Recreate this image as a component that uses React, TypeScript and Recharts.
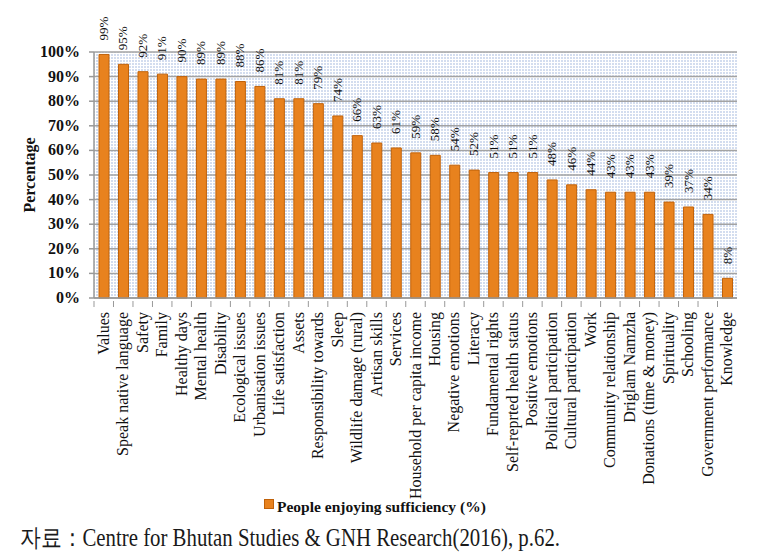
import React from 'react';
import { BarChart, Bar, XAxis, YAxis, CartesianGrid, Legend, LabelList } from 'recharts';

const categories = [
  'Values', 'Speak native language', 'Safety', 'Family', 'Healthy days', 'Mental health',
  'Disability', 'Ecological issues', 'Urbanisation issues', 'Life satisfaction', 'Assets',
  'Responsibility towards', 'Sleep', 'Wildlife damage (rural)', 'Artisan skills', 'Services',
  'Household per capita income', 'Housing', 'Negative emotions', 'Literacy', 'Fundamental rights',
  'Self-reprted health status', 'Positive emotions', 'Political participation', 'Cultural participation',
  'Work', 'Community relationship', 'Driglam Namzha', 'Donations (time & money)', 'Spirituality',
  'Schooling', 'Government performance', 'Knowledge',
];

const values = [
  99, 95, 92, 91, 90, 89, 89, 88, 86, 81, 81, 79, 74, 66, 63, 61, 59, 58, 54, 52, 51, 51, 51,
  48, 46, 44, 43, 43, 43, 39, 37, 34, 8,
];

const yTicks = [0, 10, 20, 30, 40, 50, 60, 70, 80, 90, 100];

const seriesName = 'People enjoying sufficiency (%)';
const sourceText = '자료：Centre for Bhutan Studies & GNH Research(2016), p.62.';

const data = categories.map((c, i) => ({ name: c, value: values[i] }));

const SERIF = '"Liberation Serif", "Times New Roman", serif';

const XTick = (props: any) => {
  const { x, y, payload } = props;
  const half = payload && payload.offset ? payload.offset : 9.75;
  return (
    <g>
      <line x1={x - half} x2={x - half} y1={y - 5} y2={y + 1} stroke="#999" strokeWidth={1} />
      <text
        x={x + 5}
        y={y + 6}
        transform={`rotate(-90, ${x + 5}, ${y + 6})`}
        textAnchor="end"
        style={{ fontFamily: SERIF }}
        fontSize={16}
        fill="#111"
      >
        {payload.value}
      </text>
    </g>
  );
};

const YTick = (props: any) => {
  const { x, y, payload } = props;
  return (
    <text x={x} y={y + 5} textAnchor="end" style={{ fontFamily: SERIF }} fontWeight="bold" fontSize={16} fill="#111">
      {payload.value}%
    </text>
  );
};

const ValueLabel = (props: any) => {
  const { x, y, width, value } = props;
  const cx = x + width / 2 + 4;
  const cy = y - 14;
  return (
    <text
      x={cx}
      y={cy}
      transform={`rotate(-90, ${cx}, ${cy})`}
      textAnchor="start"
      style={{ fontFamily: SERIF }}
      fontSize={13}
      fill="#111"
    >
      {value}%
    </text>
  );
};

const LegendContent = () => (
  <div style={{ display: 'flex', alignItems: 'center', fontFamily: SERIF, fontSize: 15.5, color: '#111', height: 18 }}>
    <span
      style={{
        display: 'inline-block',
        width: 8,
        height: 8,
        background: '#E8821E',
        border: '1px solid #c0620a',
        marginRight: 3,
        marginTop: -6,
      }}
    />
    <span style={{ fontWeight: 600 }}>{seriesName}</span>
  </div>
);

export default function App() {
  return (
    <div style={{ position: 'absolute', left: 0, top: 0, width: 763, height: 558, background: '#fff' }}>
      <BarChart
        width={763}
        height={530}
        data={data}
        margin={{ top: 52, right: 26, left: 0, bottom: 0 }}
        barCategoryGap="25%"
      >
        <defs>
          <pattern id="dots" x="0" y="0" width="3" height="3" patternUnits="userSpaceOnUse">
            <rect x="0" y="0" width="3" height="3" fill="#ffffff" />
            <rect x="0" y="0" width="2" height="2" fill="#d3ddef" />
          </pattern>
        </defs>
        <CartesianGrid
          vertical={false}
          stroke="#a3a3a3"
          strokeWidth={1.5}
          fill="url(#dots)"
        />
        <XAxis
          dataKey="name"
          interval={0}
          height={214}
          tick={<XTick />}
          tickLine={false}
          axisLine={{ stroke: '#999', strokeWidth: 1.5 }}
        />
        <YAxis
          domain={[0, 100]}
          ticks={yTicks}
          interval={0}
          width={94}
          tickSize={5}
          tickMargin={9}
          tick={<YTick />}
          tickLine={{ stroke: '#999', strokeWidth: 1.5 }}
          axisLine={{ stroke: '#999', strokeWidth: 1.5 }}
          label={{
            value: 'Percentage',
            angle: -90,
            position: 'insideLeft',
            offset: 29,
            style: { fontFamily: SERIF, fontWeight: 'bold', fontSize: 16, fill: '#111', textAnchor: 'middle' },
          }}
        />
        <Legend
          content={<LegendContent />}
          wrapperStyle={{ position: 'absolute', left: 264, top: 498, width: 300 }}
        />
        <Bar
          dataKey="value"
          name={seriesName}
          fill="#E8821E"
          stroke="#c0620a"
          strokeWidth={1}
          barSize={10}
          isAnimationActive={false}
        >
          <LabelList dataKey="value" content={<ValueLabel />} />
        </Bar>
      </BarChart>
      <svg width={763} height={38} style={{ position: 'absolute', left: 0, top: 520 }}>
        <text
          x={20}
          y={26}
          style={{ fontFamily: '"Liberation Serif", serif', fontSize: '25px' }}
          fill="#1a1a1a"
          textLength={540}
          lengthAdjust="spacingAndGlyphs"
        >
          {sourceText}
        </text>
      </svg>
    </div>
  );
}
